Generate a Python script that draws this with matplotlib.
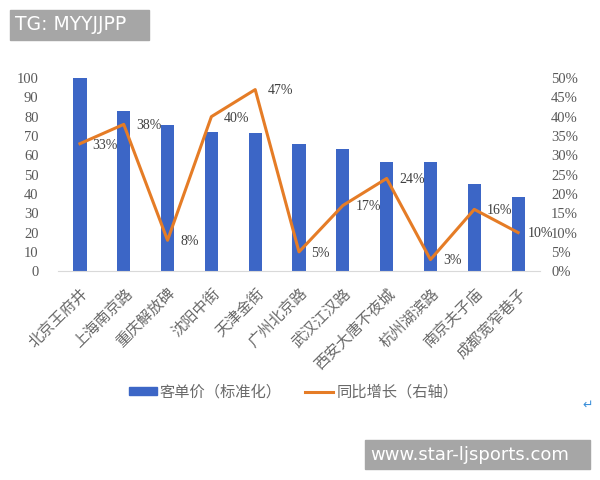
import matplotlib
matplotlib.use("Agg")
import matplotlib.pyplot as plt
from matplotlib.patches import Rectangle
import numpy as np

plt.rcParams["font.family"] = ["Noto Sans CJK SC", "DejaVu Sans"]

streets = ["北京王府井", "上海南京路", "重庆解放碑", "沈阳中街", "天津金街", "广州北京路",
           "武汉江汉路", "西安大唐不夜城", "杭州湖滨路", "南京夫子庙", "成都宽窄巷子"]
price_index = [100, 82.7, 75.9, 72.2, 71.5, 65.9, 63.3, 56.4, 56.4, 45.3, 38.2]
yoy_growth = [33, 38, 8, 40, 47, 5, 17, 24, 3, 16, 10]

BAR_COLOR = "#3c66c6"
LINE_COLOR = "#e57c26"
TEXT_GRAY = "#595959"
SERIF = "Liberation Serif"

fig = plt.figure(figsize=(6, 4.8), dpi=100)
ax = fig.add_axes([0.0967, 0.435, 0.8033, 0.4025])
ax2 = ax.twinx()

x = np.arange(len(streets))
ax.bar(x, price_index, width=0.3, color=BAR_COLOR, zorder=2)
ax2.plot(x, yoy_growth, color=LINE_COLOR, linewidth=2.2, zorder=3)

for i, (xi, v) in enumerate(zip(x, yoy_growth)):
    # last label sits right against the right-axis ticks, as in the original
    dx = 7 if i == len(x) - 1 else 9
    ax2.annotate(f"{v}%", (xi, v), xytext=(dx, -1), textcoords="offset points",
                 ha="left", va="center", fontsize=10, family=SERIF, color="#404040")

ax.set_xlim(-0.5, len(streets) - 0.5)
ax.set_ylim(0, 100)
ax2.set_ylim(0, 50)
ax.set_yticks(range(0, 101, 10))
ax2.set_yticks(range(0, 51, 5))
ax2.set_yticklabels([f"{t}%" for t in range(0, 51, 5)])

for a in (ax, ax2):
    for s in a.spines.values():
        s.set_visible(False)
    a.tick_params(length=0, colors=TEXT_GRAY)
ax.spines["bottom"].set_visible(True)
ax.spines["bottom"].set_color("#d9d9d9")

for lab in ax.get_yticklabels() + ax2.get_yticklabels():
    lab.set_family(SERIF)
    lab.set_fontsize(10.5)
ax.tick_params(axis="y", pad=14)
ax2.tick_params(axis="y", pad=8)

ax.set_xticks(x)
ax.set_xticklabels(streets, rotation=45, ha="right", rotation_mode="anchor",
                   fontsize=11, color="#6a6a6a")
ax.tick_params(axis="x", pad=10)

handles = [Rectangle((0, 0), 1, 1, color=BAR_COLOR),
           plt.Line2D([0], [0], color=LINE_COLOR, linewidth=2.2)]
fig.legend(handles, ["客单价（标准化）", "同比增长（右轴）"], loc="center",
           bbox_to_anchor=(0.489, 1 - 392 / 480), ncol=2, frameon=False,
           fontsize=11, handlelength=1.85, handleheight=0.4, columnspacing=1.5,
           handletextpad=0.2, labelcolor="#6a6a6a")

# watermark boxes
fig.patches.append(Rectangle((10 / 600, 1 - 40 / 480), 139 / 600, 30 / 480,
                             transform=fig.transFigure, color="#a6a6a6", zorder=5))
fig.text(15 / 600, 1 - 25 / 480, "TG: MYYJJPP", color="white", fontsize=13.5,
         family="DejaVu Sans", va="center", ha="left", zorder=6)
fig.patches.append(Rectangle((365 / 600, 1 - 469 / 480), 225 / 600, 29 / 480,
                             transform=fig.transFigure, color="#a6a6a6", zorder=5))
fig.text(370 / 600, 1 - 455 / 480, "www.star-ljsports.com", color="white",
         fontsize=13, family="DejaVu Sans", va="center", ha="left", zorder=6)
fig.text(588 / 600, 1 - 405 / 480, "↵", color="#3b8fd9", fontsize=9,
         family="DejaVu Sans", va="center", ha="center")

fig.savefig("out.png", dpi=100)
